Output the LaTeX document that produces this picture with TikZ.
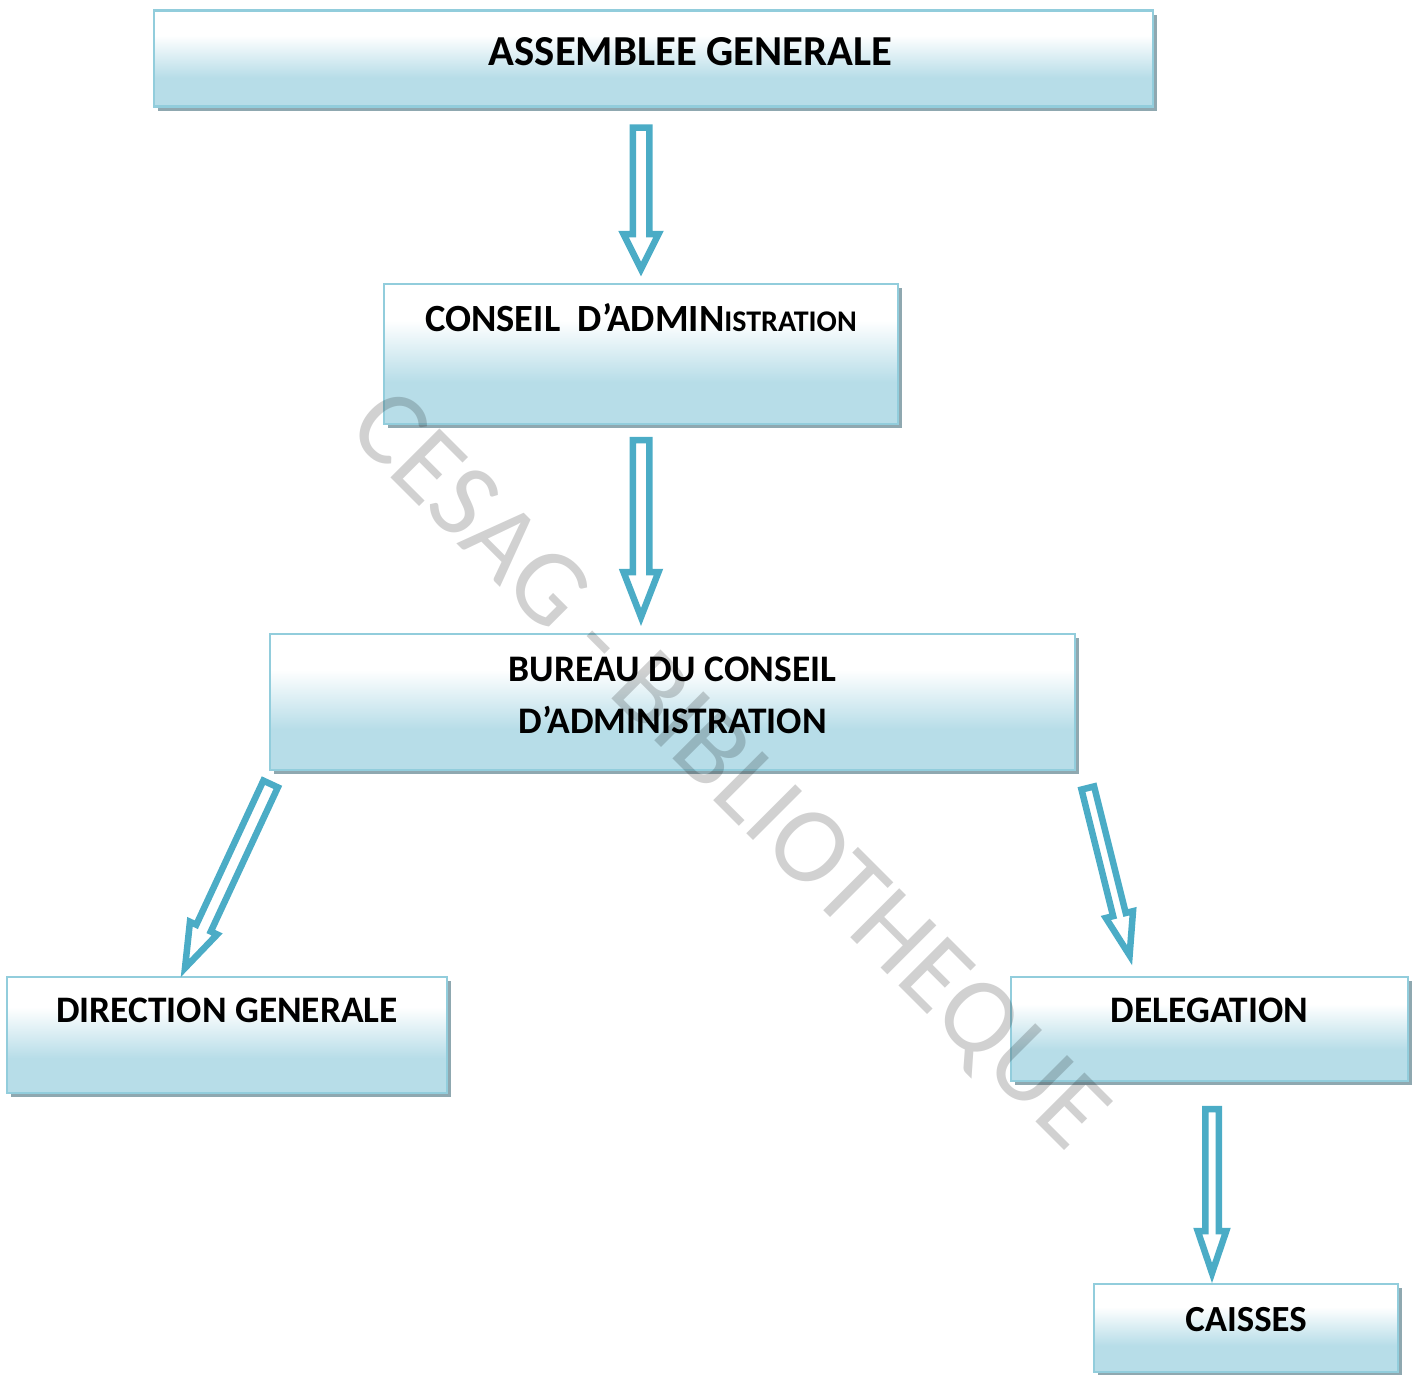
\documentclass[tikz,border=0pt]{standalone}
\usepackage{fontspec}
\setmainfont{Carlito}
\usetikzlibrary{calc,shadows}
\definecolor{boxblue}{RGB}{183,221,232}
\definecolor{boxedge}{RGB}{146,205,220}
\definecolor{arrowblue}{RGB}{75,172,198}
\definecolor{shadowgray}{RGB}{143,168,176}
\pgfdeclareverticalshading{boxshade}{100bp}{color(0bp)=(boxblue); color(40bp)=(boxblue); color(62bp)=(white); color(100bp)=(white)}
\newcommand{\blockarrow}[5]{%
  \coordinate (ba-b) at ($(#2)!#5!(#1)$);
  \draw[hollow] ($(#1)!#3!90:(#2)$) -- ($(ba-b)!#3!-90:(#1)$) -- ($(ba-b)!#4!-90:(#1)$)
    -- (#2) -- ($(ba-b)!#4!90:(#1)$) -- ($(ba-b)!#3!90:(#1)$) -- ($(#1)!#3!-90:(#2)$) -- cycle;}
\begin{document}
\begin{tikzpicture}[x=1pt,y=-1pt,
    orgbox/.style={draw=boxedge,line width=2.5pt,shading=boxshade,
      drop shadow={shadow xshift=4pt,shadow yshift=-4pt,fill=shadowgray,opacity=1},
      anchor=north west,inner xsep=0pt,inner ysep=0pt,outer sep=0pt,align=center},
    hollow/.style={draw=arrowblue,line width=6.5pt,fill=white,line join=miter},
    watermark/.style={rotate=-45,text=black,text opacity=.18,font=\fontsize{108pt}{108pt}\selectfont}]
    \useasboundingbox (0,0) rectangle (1418,1374);
    \node[orgbox,minimum width=999pt,text height=54.5pt,text depth=41.5pt,font=\bfseries\fontsize{42.7pt}{44pt}\selectfont] (ag) at (154,10.5) {\hspace*{74pt}ASSEMBLEE GENERALE};
    \node[orgbox,minimum width=514pt,text height=47.7pt,text depth=92.3pt,font=\bfseries\fontsize{38.5pt}{40pt}\selectfont] (ca) at (384,284) {CONSEIL\ \ D’ADMIN{\fontsize{30pt}{32pt}\selectfont ISTRATION}};
    \node[orgbox,minimum width=805pt,text height=99pt,text depth=37pt,font=\bfseries\fontsize{37.5pt}{52pt}\selectfont] (bur) at (270,634) {BUREAU DU CONSEIL\\D’ADMINISTRATION};
    \node[orgbox,minimum width=440pt,text height=45.7pt,text depth=70.3pt,font=\bfseries\fontsize{37.4pt}{39pt}\selectfont] (dg) at (7,977) {DIRECTION GENERALE};
    \node[orgbox,minimum width=397pt,text height=45.7pt,text depth=58.3pt,font=\bfseries\fontsize{37.4pt}{39pt}\selectfont] (del) at (1011,977) {DELEGATION};
    \node[orgbox,minimum width=304pt,text height=47.7pt,text depth=40.3pt,font=\bfseries\fontsize{36.8pt}{38pt}\selectfont] (cai) at (1094,1284) {CAISSES};
    \coordinate (t1) at ([yshift=-21pt]ag.south -| ca.north);
    \coordinate (h1) at ([yshift=15pt]ca.north);
    \coordinate (t2) at ([yshift=-16pt]ca.south);
    \coordinate (h2) at ([yshift=17pt]bur.north -| ca.south);
    \coordinate (t3) at ([xshift=0.6pt,yshift=-14pt]bur.south west);
    \coordinate (h3) at ([xshift=-42pt,yshift=9pt]dg.north);
    \coordinate (t4) at ([xshift=12.8pt,yshift=-18pt]bur.south east);
    \coordinate (h4) at ([xshift=118.6pt,yshift=21.7pt]del.north west);
    \coordinate (t5) at ([xshift=2.5pt,yshift=-28pt]del.south);
    \coordinate (h5) at ([yshift=11pt]cai.north -| t5);
    \blockarrow{t1}{h1}{8.25pt}{17.5pt}{35pt}
    \blockarrow{t2}{h2}{8.25pt}{17.5pt}{45pt}
    \blockarrow{t3}{h3}{8pt}{15pt}{44pt}
    \blockarrow{t4}{h4}{6.5pt}{14pt}{42pt}
    \blockarrow{t5}{h5}{6.75pt}{14.25pt}{42pt}
    \node[watermark] (wm) at (726,773) {CESAG - BIBLIOTHEQUE};
\end{tikzpicture}
\end{document}
